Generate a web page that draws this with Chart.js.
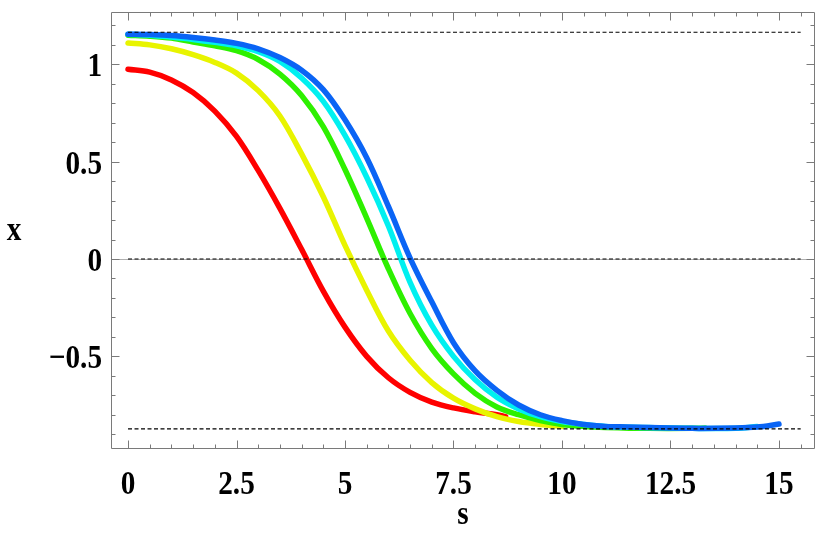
<!DOCTYPE html>
<html><head><meta charset="utf-8">
<script src="https://cdn.jsdelivr.net/npm/chart.js@4/dist/chart.umd.min.js"></script>
<style>html,body{margin:0;padding:0;background:#fff}#wrap{width:817px;height:545px}</style>
</head><body><div id="wrap"><canvas id="c" width="817" height="545"></canvas></div>
<script>
// ---- data ----
const sRed    = [0,0.5,1,1.5,2,2.5,3,3.5,4,4.5,5,5.5,6,6.5,7,7.5,8,8.5,8.7];
const xRed    = [0.975,0.96,0.92,0.855,0.76,0.63,0.455,0.26,0.05,-0.165,-0.35,-0.50,-0.61,-0.685,-0.735,-0.765,-0.785,-0.80,-0.81];
const sYellow = [0,0.5,1,1.5,2,2.5,3,3.5,4,4.5,5,5.5,6,6.5,7,7.5,8,8.5,9,9.5,10];
const xYellow = [1.11,1.10,1.08,1.05,1.01,0.955,0.865,0.735,0.54,0.32,0.07,-0.16,-0.37,-0.52,-0.635,-0.715,-0.77,-0.81,-0.835,-0.85,-0.86];
const sGreen  = [0,0.5,1,1.5,2,2.5,3,3.5,4,4.5,5,5.5,6,6.5,7,7.5,8,8.5,9,9.5,10,10.5,11,12,13,13.3];
const xGreen  = [1.15,1.145,1.135,1.115,1.095,1.07,1.025,0.95,0.84,0.68,0.46,0.21,-0.05,-0.28,-0.46,-0.59,-0.69,-0.76,-0.80,-0.83,-0.85,-0.86,-0.865,-0.87,-0.87,-0.868];
const sCyan   = [0,0.5,1,1.5,2,2.5,3,3.5,4,4.5,5,5.5,6,6.5,7,7.5,8,8.5,9,9.5,10,10.5,11,12,13,14,14.5];
const xCyan   = [1.155,1.15,1.14,1.128,1.113,1.095,1.065,1.015,0.93,0.81,0.635,0.42,0.17,-0.12,-0.34,-0.50,-0.62,-0.71,-0.77,-0.81,-0.835,-0.85,-0.86,-0.865,-0.87,-0.87,-0.86];
const sBlue   = [0,0.5,1,1.5,2,2.5,3,3.5,4,4.5,5,5.5,6,6.5,7,7.5,8,8.5,9,9.5,10,10.5,11,11.5,12,13,14,14.5,15];
const xBlue   = [1.155,1.153,1.148,1.138,1.125,1.108,1.08,1.035,0.97,0.87,0.715,0.52,0.27,0.005,-0.22,-0.43,-0.575,-0.675,-0.75,-0.80,-0.83,-0.85,-0.86,-0.863,-0.866,-0.87,-0.868,-0.863,-0.848];
const refS        = [0,15.5];
const upperLevel  = [1.165,1.165];
const zeroLevel   = [0,0];
const lowerLevel  = [-0.873,-0.873];
const xTickValues = [0,2.5,5,7.5,10,12.5,15];
const xTickLabels = ["0","2.5","5","7.5","10","12.5","15"];
const yTickValues = [-0.5,0,0.5,1];
const yTickLabels = ["\u22120.5","0","0.5","1"];
const xAxisTitle = "s";
const yAxisTitle = "x";

function pts(s, v){ return s.map((a,i)=>({x:a,y:v[i]})); }
function curve(s, v, color, order){
  return {data:pts(s,v), borderColor:color, borderWidth:5.5, pointRadius:0, fill:false,
    tension:0.35, borderCapStyle:'round', borderJoinStyle:'round', order:order};
}
function ref(v){
  return {data:pts(refS,v), borderColor:'#000', borderWidth:1.2, borderDash:[4,2.5], pointRadius:0, fill:false, order:0};
}

const FONT = 'bold 34px "Liberation Serif", "DejaVu Serif", serif';
const SX = 0.86;
function drawText(ctx, t, x, y, align){
  ctx.save(); ctx.translate(x,y); ctx.scale(SX,1);
  ctx.textAlign = align; ctx.textBaseline='alphabetic'; ctx.fillText(t,0,0); ctx.restore();
}

const framePlugin = {
  id:'frame',
  beforeDatasetsDraw(chart){
    const {ctx, chartArea:a, scales:{x,y}} = chart;
    ctx.save();
    ctx.strokeStyle='#b0b0b0'; ctx.lineWidth=1;
    const y0 = Math.round(y.getPixelForValue(0))+0.5;
    ctx.beginPath(); ctx.moveTo(a.left,y0); ctx.lineTo(a.right,y0); ctx.stroke();
    ctx.restore();
  },
  afterDraw(chart){
    const {ctx, chartArea:a, scales:{x,y}} = chart;
    ctx.save();
    ctx.strokeStyle='#7a7a7a'; ctx.lineWidth=1;
    const L=Math.round(a.left)+0.5, R=Math.round(a.right)-0.5, T=Math.round(a.top)+0.5, B=Math.round(a.bottom)-0.5;
    ctx.beginPath(); ctx.rect(L,T,R-L,B-T); ctx.stroke();
    ctx.beginPath();
    for(let k=0;k<=31;k++){
      const v=k*0.5; const px=Math.round(x.getPixelForValue(v))+0.5;
      if(px<L||px>R) continue;
      const len = (k%5===0)?8:4;
      ctx.moveTo(px,B); ctx.lineTo(px,B-len);
      ctx.moveTo(px,T); ctx.lineTo(px,T+len);
    }
    for(let k=-9;k<=12;k++){
      const v=k*0.1; const py=Math.round(y.getPixelForValue(v))+0.5;
      if(py<T||py>B) continue;
      const len = (k%5===0)?8:4;
      ctx.moveTo(L,py); ctx.lineTo(L+len,py);
      ctx.moveTo(R,py); ctx.lineTo(R-len,py);
    }
    ctx.stroke();
    ctx.fillStyle='#000'; ctx.font=FONT;
    xTickValues.forEach((v,i)=>drawText(ctx,xTickLabels[i],x.getPixelForValue(v),494,'center'));
    yTickValues.forEach((v,i)=>drawText(ctx,yTickLabels[i],102,y.getPixelForValue(v)+12,'right'));
    drawText(ctx,xAxisTitle,(a.left+a.right)/2,524,'center');
    drawText(ctx,yAxisTitle,14,240,'center');
    ctx.restore();
  }
};

new Chart(document.getElementById('c'), {
  type:'line',
  data:{datasets:[
    ref(upperLevel), ref(zeroLevel), ref(lowerLevel),
    curve(sBlue,xBlue,'#0a64f5',1),
    curve(sCyan,xCyan,'#00f0f0',2),
    curve(sGreen,xGreen,'#2ef000',3),
    curve(sYellow,xYellow,'#e8f400',4),
    curve(sRed,xRed,'#ff0000',5)
  ]},
  options:{
    responsive:false, animation:false, devicePixelRatio:1,
    layout:{padding:{left:111,right:2,top:12,bottom:96}},
    plugins:{legend:{display:false}, tooltip:{enabled:false}},
    scales:{
      x:{type:'linear', display:false, min:-0.392, max:15.83},
      y:{type:'linear', display:false, min:-0.976, max:1.269}
    }
  },
  plugins:[framePlugin]
});
</script></body></html>
